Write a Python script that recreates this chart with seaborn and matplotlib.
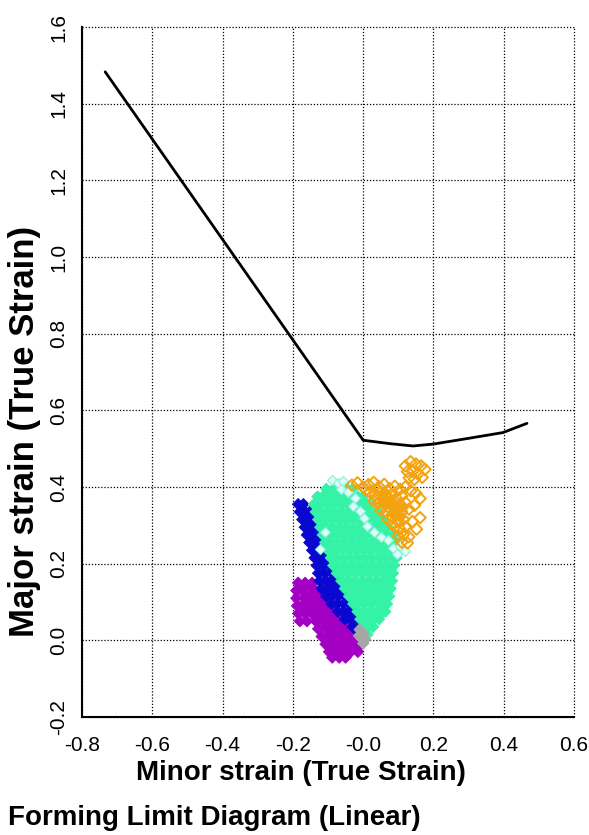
import pandas as pd
import seaborn as sns
import matplotlib.pyplot as plt

# Set plot style
sns.set_style("white")
plt.rcParams['font.family'] = ['Liberation Sans', 'DejaVu Sans']
plt.rcParams['axes.unicode_minus'] = False
plt.rcParams['text.color'] = 'black'
plt.rcParams['xtick.color'] = 'black'
plt.rcParams['ytick.color'] = 'black'

# Forming limit curve (minor strain, major strain)
flc_minor = [-0.734, 0.0, 0.077, 0.142, 0.2, 0.3, 0.398, 0.466]
flc_major = [1.483, 0.522, 0.513, 0.507, 0.512, 0.527, 0.542, 0.566]

purple_rows = {
    0.150: [-0.185, -0.165, -0.145],
    0.130: [-0.190, -0.175, -0.155, -0.135, -0.120],
    0.110: [-0.190, -0.165, -0.145, -0.125, -0.105],
    0.090: [-0.188, -0.175, -0.155, -0.135, -0.115, -0.095, -0.085],
    0.070: [-0.185, -0.165, -0.145, -0.125, -0.105, -0.085, -0.068],
    0.050: [-0.180, -0.160, -0.135, -0.115, -0.095, -0.075, -0.055, -0.045],
    0.030: [-0.128, -0.105, -0.085, -0.065, -0.045, -0.030],
    0.010: [-0.118, -0.095, -0.075, -0.055, -0.035, -0.015],
    -0.010: [-0.107, -0.085, -0.065, -0.045, -0.025, -0.005],
    -0.030: [-0.097, -0.075, -0.055, -0.035, -0.015],
    -0.045: [-0.088, -0.068, -0.050],
}
blue_rows = {
    0.355: [-0.185, -0.170],
    0.335: [-0.180, -0.165, -0.152],
    0.315: [-0.173, -0.158, -0.143],
    0.295: [-0.166, -0.151, -0.136],
    0.275: [-0.160, -0.145, -0.128],
    0.255: [-0.153, -0.138, -0.120],
    0.235: [-0.145, -0.130, -0.113],
    0.215: [-0.138, -0.122, -0.104],
    0.195: [-0.132, -0.115, -0.096],
    0.175: [-0.128, -0.110, -0.090, -0.080],
    0.155: [-0.124, -0.105, -0.088, -0.072],
    0.135: [-0.118, -0.100, -0.082, -0.062],
    0.115: [-0.105, -0.088, -0.070, -0.050],
    0.095: [-0.090, -0.073, -0.055, -0.038],
    0.075: [-0.072, -0.056, -0.040, -0.026],
    0.055: [-0.052, -0.036, -0.020],
    0.035: [-0.030, -0.014],
    0.020: [-0.012],
}
aqua_rows = {
    0.395: [-0.105, -0.085, -0.065, -0.045, -0.030],
    0.375: [-0.130, -0.115, -0.095, -0.075, -0.055, -0.035, -0.015, 0.000],
    0.355: [-0.140, -0.125, -0.105, -0.085, -0.065, -0.045, -0.025, -0.005, 0.010, 0.020],
    0.335: [-0.135, -0.120, -0.100, -0.080, -0.060, -0.040, -0.020, 0.000, 0.020, 0.035, 0.042],
    0.315: [-0.128, -0.110, -0.090, -0.070, -0.050, -0.030, -0.010, 0.010, 0.030, 0.045, 0.055],
    0.295: [-0.122, -0.105, -0.085, -0.065, -0.045, -0.025, -0.005, 0.015, 0.035, 0.055, 0.070],
    0.275: [-0.115, -0.095, -0.075, -0.055, -0.035, -0.015, 0.005, 0.025, 0.045, 0.065, 0.085],
    0.255: [-0.108, -0.090, -0.070, -0.050, -0.030, -0.010, 0.010, 0.030, 0.050, 0.070, 0.090, 0.098],
    0.235: [-0.100, -0.080, -0.060, -0.040, -0.020, 0.000, 0.020, 0.040, 0.060, 0.080, 0.100],
    0.215: [-0.092, -0.075, -0.055, -0.035, -0.015, 0.005, 0.025, 0.045, 0.065, 0.085, 0.095],
    0.195: [-0.085, -0.070, -0.050, -0.030, -0.010, 0.010, 0.030, 0.050, 0.070, 0.088],
    0.175: [-0.075, -0.060, -0.040, -0.020, 0.000, 0.020, 0.040, 0.060, 0.075, 0.085],
    0.155: [-0.062, -0.045, -0.025, -0.005, 0.015, 0.035, 0.055, 0.072, 0.082],
    0.135: [-0.052, -0.035, -0.015, 0.005, 0.025, 0.045, 0.065, 0.078],
    0.115: [-0.040, -0.025, -0.005, 0.015, 0.035, 0.055, 0.074],
    0.095: [-0.028, -0.015, 0.005, 0.025, 0.045, 0.062, 0.068],
    0.075: [-0.016, 0.000, 0.020, 0.040, 0.058, 0.063],
    0.055: [-0.008, 0.010, 0.030, 0.045],
    0.035: [-0.002, 0.015, 0.028],
    0.015: [0.004, 0.012],
}
gray_pts = [(-0.010, 0.028), (0.000, 0.018), (-0.006, 0.006), (0.006, 0.002),
            (0.000, -0.008), (-0.012, 0.012)]
orange_pts = [
    (0.120, 0.455), (0.135, 0.466), (0.150, 0.460), (0.165, 0.455), (0.176, 0.446),
    (0.126, 0.440), (0.141, 0.441), (0.156, 0.434), (0.168, 0.425), (0.131, 0.424),
    (0.146, 0.420), (-0.032, 0.405), (-0.016, 0.411), (0.000, 0.400), (0.015, 0.406),
    (0.030, 0.412), (0.045, 0.401), (0.060, 0.407), (0.075, 0.396), (0.090, 0.402),
    (0.105, 0.394), (0.120, 0.400), (0.136, 0.390), (0.150, 0.384), (0.020, 0.386),
    (0.035, 0.380), (0.050, 0.386), (0.065, 0.375), (0.080, 0.380), (0.095, 0.370),
    (0.110, 0.376), (0.030, 0.364), (0.045, 0.360), (0.060, 0.355), (0.075, 0.360),
    (0.090, 0.350), (0.105, 0.355), (0.120, 0.360), (0.050, 0.340), (0.065, 0.335),
    (0.080, 0.340), (0.095, 0.330), (0.110, 0.335), (0.130, 0.342), (0.146, 0.352),
    (0.162, 0.370), (0.070, 0.316), (0.085, 0.320), (0.100, 0.310), (0.115, 0.315),
    (0.090, 0.295), (0.105, 0.290), (0.120, 0.296), (0.140, 0.310), (0.162, 0.320),
    (0.100, 0.272), (0.115, 0.276), (0.130, 0.270), (0.152, 0.290), (0.110, 0.256),
    (0.126, 0.254), (0.040, 0.392), (0.058, 0.370), (0.072, 0.348), (0.088, 0.366),
    (0.100, 0.342), (0.082, 0.305), (0.040, 0.372), (0.008, 0.392),
]
orange_core_pts = [
    (0.050, 0.372), (0.068, 0.362), (0.082, 0.352), (0.098, 0.344), (0.088, 0.330),
    (0.104, 0.322), (0.062, 0.388), (0.078, 0.368), (0.112, 0.348),
]
cyan_pts = [
    (-0.088, 0.418), (-0.072, 0.410), (-0.056, 0.415), (-0.062, 0.396), (-0.042, 0.386),
    (-0.022, 0.372), (-0.030, 0.350), (-0.010, 0.338), (0.002, 0.320), (0.012, 0.298),
    (0.032, 0.282), (0.052, 0.270), (0.070, 0.262), (0.086, 0.242), (0.104, 0.246),
    (0.096, 0.226), (0.118, 0.232), (-0.108, 0.282), (-0.122, 0.238),
]

x_ticks = [-0.8, -0.6, -0.4, -0.2, 0.0, 0.2, 0.4, 0.6]
x_tick_labels = ["-0.8", "-0.6", "-0.4", "-0.2", "-0.0", "0.2", "0.4", "0.6"]
y_ticks = [-0.2, 0.0, 0.2, 0.4, 0.6, 0.8, 1.0, 1.2, 1.4, 1.6]
y_tick_labels = ["-0.2", "0.0", "0.2", "0.4", "0.6", "0.8", "1.0", "1.2", "1.4", "1.6"]

group_colors = {"purple": "#A400C4", "blue": "#0808D0", "aqua": "#34F3A6", "gray": "#A6A6A6"}


def rows_to_frame(rows, group):
    recs = [(x, y, group) for y, xs in rows.items() for x in xs]
    return pd.DataFrame(recs, columns=["minor", "major", "group"])


filled = pd.concat([
    rows_to_frame(purple_rows, "purple"),
    rows_to_frame(blue_rows, "blue"),
    rows_to_frame(aqua_rows, "aqua"),
    pd.DataFrame([(x, y, "gray") for x, y in gray_pts], columns=["minor", "major", "group"]),
], ignore_index=True)
orange = pd.DataFrame(orange_pts, columns=["minor", "major"])
orange_core = pd.DataFrame(orange_core_pts, columns=["minor", "major"])
cyan = pd.DataFrame(cyan_pts, columns=["minor", "major"])

fig = plt.figure(figsize=(5.89, 8.35), dpi=100)
ax = fig.add_axes([82 / 589, 1 - 717 / 835, (574 - 82) / 589, (717 - 27) / 835])

sns.scatterplot(data=filled, x="minor", y="major", hue="group", palette=group_colors,
                marker="D", s=34, edgecolor="face", linewidth=0.6, legend=False, ax=ax)
sns.scatterplot(data=cyan, x="minor", y="major", marker="D", s=26, color="#8CEDE4",
                facecolor="#D8FFF2", edgecolor="#8CEDE4", linewidth=0.8, ax=ax)
sns.scatterplot(data=orange_core, x="minor", y="major", marker="D", s=30, color="#F2A30F",
                edgecolor="face", linewidth=0.5, ax=ax)
sns.scatterplot(data=orange, x="minor", y="major", marker="D", s=34, color="#F2A30F",
                facecolor="none", edgecolor="#F2A30F", linewidth=1.4, ax=ax)
sns.lineplot(x=flc_minor, y=flc_major, color="black", linewidth=2.0, sort=False, ax=ax)

ax.set_xlim(-0.8, 0.6)
ax.set_ylim(-0.2, 1.6)
ax.set_xlabel("")
ax.set_ylabel("")

tick_family = ["Liberation Sans Narrow", "Liberation Sans", "DejaVu Sans"]
ax.set_xticks(x_ticks)
ax.set_xticklabels(x_tick_labels, family=tick_family, fontsize=15)
ax.set_yticks(y_ticks)
ax.set_yticklabels(y_tick_labels, family=tick_family, fontsize=15, rotation=90, va="center")
ax.tick_params(axis="x", direction="inout", length=12, width=1.3, color="black", pad=8)
ax.tick_params(axis="y", direction="inout", length=12, width=1.3, color="black", pad=4)

ax.grid(True, color="black", linestyle=(0, (1, 1.5)), linewidth=0.9)
for line in ax.get_xgridlines() + ax.get_ygridlines():
    line.set_clip_on(False)
ax.spines["top"].set_visible(False)
ax.spines["right"].set_visible(False)
for side in ["left", "bottom"]:
    ax.spines[side].set_color("black")
    ax.spines[side].set_linewidth(1.5)

fig.text(301 / 589, 1 - 773 / 835, "Minor strain (True Strain)", ha="center", va="center",
         fontsize=20, fontweight="bold")
fig.text(25 / 589, 1 - 431 / 835, "Major strain (True Strain)", ha="center", va="center",
         rotation=90, fontsize=25, fontweight="bold")
fig.text(8 / 589, 1 - 818 / 835, "Forming Limit Diagram (Linear)", ha="left", va="center",
         fontsize=20, fontweight="bold")

fig.savefig("out.png", dpi=100)
